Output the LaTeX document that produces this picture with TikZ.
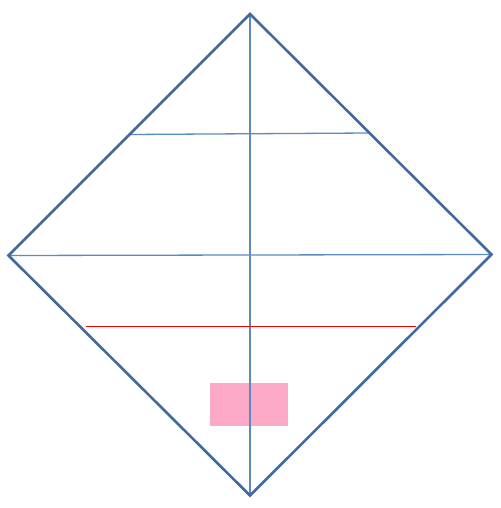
\documentclass[tikz,border=0pt]{standalone}
\definecolor{edgeblue}{HTML}{41699E}
\definecolor{lineblue}{HTML}{5A8AC6}
\definecolor{boxpink}{HTML}{FDAAC9}
\begin{document}
\begin{tikzpicture}[x=1pt, y=-1pt]
            \useasboundingbox (0,0) rectangle (500,508);

            \coordinate (top) at (250,14);
            \coordinate (left) at (8.5,255.5);
            \coordinate (right) at (491.5,254.5);
            \coordinate (bottom) at (250,495.5);
            \coordinate (ul) at (130,134.5);
            \coordinate (ur) at (369,133);
            \coordinate (rl) at (86,326);
            \coordinate (rr) at (415.5,326);

            \fill[boxpink] (210,383) rectangle (288,425.5);

            \draw[lineblue, line width=1.3pt] (top) -- (bottom);
            \draw[lineblue, line width=1.3pt] (ul) -- (ur);
            \draw[lineblue, line width=1.3pt] (left) -- (right);
            \draw[red, line width=0.9pt] (rl) -- (rr);

            \draw[edgeblue, line width=2.6pt, line join=miter] (top) -- (right) -- (bottom) -- (left) -- cycle;
        \end{tikzpicture}
\end{document}
